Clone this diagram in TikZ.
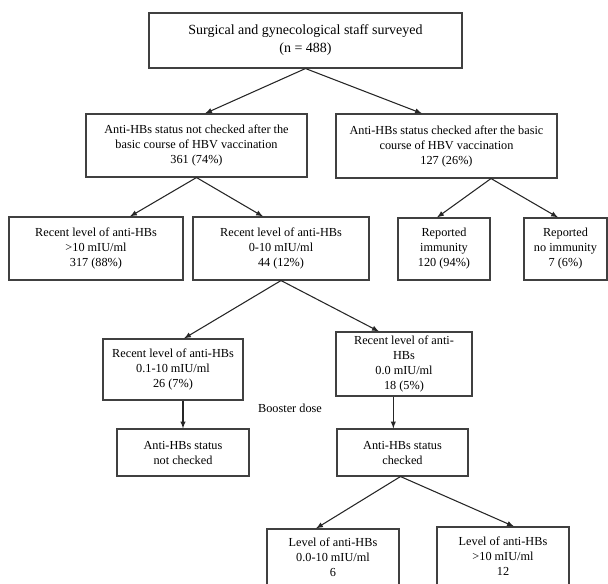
\documentclass[tikz,border=0pt]{standalone}
\usepackage{fontspec}
\setmainfont{Liberation Serif}

\begin{document}
\begin{tikzpicture}[x=0.75pt,y=-0.75pt,
    box/.style={draw=black!75,line width=0.8pt,align=center,inner sep=0pt,
      font=\fontsize{9.2}{11.25}\selectfont},
    link/.style={draw=black!85,line width=0.8pt,-latex}]
  \useasboundingbox (0,0) rectangle (608,583);
  \clip (0,0) rectangle (608,583);
  % survey
  \node[box,minimum width=234.75pt,minimum height=41.25pt,font=\fontsize{10.5}{13.5}\selectfont] (staff) at (305.5,40.5)
    {Surgical and gynecological staff surveyed\\(n = 488)};
  \node[box,minimum width=165.75pt,minimum height=47.25pt] (notchk) at (196.5,145.5)
    {Anti-HBs status not checked after the\\basic course of HBV vaccination\\361 (74\%)};
  \node[box,minimum width=165.75pt,minimum height=48pt] (chk) at (446.5,146)
    {Anti-HBs status checked after the basic\\course of HBV vaccination\\127 (26\%)};
  % recent levels
  \node[box,minimum width=130.5pt,minimum height=47.25pt] (high) at (96,248.5)
    {Recent level of anti-HBs\\>10 mIU/ml\\317 (88\%)};
  \node[box,minimum width=132pt,minimum height=47.25pt] (low) at (281,248.5)
    {Recent level of anti-HBs\\0-10 mIU/ml\\44 (12\%)};
  \node[box,minimum width=69pt,minimum height=46.5pt] (immune) at (444,249)
    {Reported\\immunity\\120 (94\%)};
  \node[box,minimum width=62.25pt,minimum height=46.5pt] (nonimmune) at (565.5,249)
    {Reported\\no immunity\\7 (6\%)};
  \node[box,minimum width=105pt,minimum height=45.75pt] (partial) at (173,369.5)
    {Recent level of anti-HBs\\0.1-10 mIU/ml\\26 (7\%)};
  \node[box,minimum width=102pt,minimum height=48pt] (zero) at (404,364)
    {Recent level of anti-\\HBs\\0.0 mIU/ml\\18 (5\%)};
  % booster
  \node[font=\fontsize{9.2}{11.25}\selectfont] (booster) at (290,408) {Booster dose};
  \node[box,minimum width=99pt,minimum height=35.25pt] (notchkd) at (183,452.5)
    {Anti-HBs status\\not checked};
  \node[box,minimum width=98.25pt,minimum height=35.25pt] (chkd) at (402.5,452.5)
    {Anti-HBs status\\checked};
  \node[box,minimum width=99pt,minimum height=42pt] (under) at (333,557)
    {Level of anti-HBs\\0.0-10 mIU/ml\\6};
  \node[box,minimum width=99pt,minimum height=43.5pt] (over) at (503,556)
    {Level of anti-HBs\\>10 mIU/ml\\12};
  % arrows
  \draw[link] (staff.south) -- ([xshift=6.4pt]notchk.north);
  \draw[link] (staff.south) -- ([xshift=-18.4pt]chk.north);
  \draw[link] (notchk.south) -- ([xshift=25.5pt]high.north);
  \draw[link] (notchk.south) -- ([xshift=-13.5pt]low.north);
  \draw[link] ([xshift=33.4pt]chk.south) -- ([xshift=-5.25pt]immune.north);
  \draw[link] ([xshift=33.4pt]chk.south) -- ([xshift=-5.6pt]nonimmune.north);
  \draw[link] (low.south) -- ([xshift=8.25pt]partial.north);
  \draw[link] (low.south) -- ([xshift=-18.75pt]zero.north);
  \draw[link] ([xshift=7.5pt]partial.south) -- (notchkd.north);
  \draw[link] ([xshift=-8pt]zero.south) -- ([xshift=-8pt]zero.south |- chkd.north);
  \draw[link] ([xshift=-1.5pt]chkd.south) -- ([xshift=-12.75pt]under.north);
  \draw[link] ([xshift=-1.5pt]chkd.south) -- ([xshift=8.25pt]over.north);
\end{tikzpicture}
\end{document}
